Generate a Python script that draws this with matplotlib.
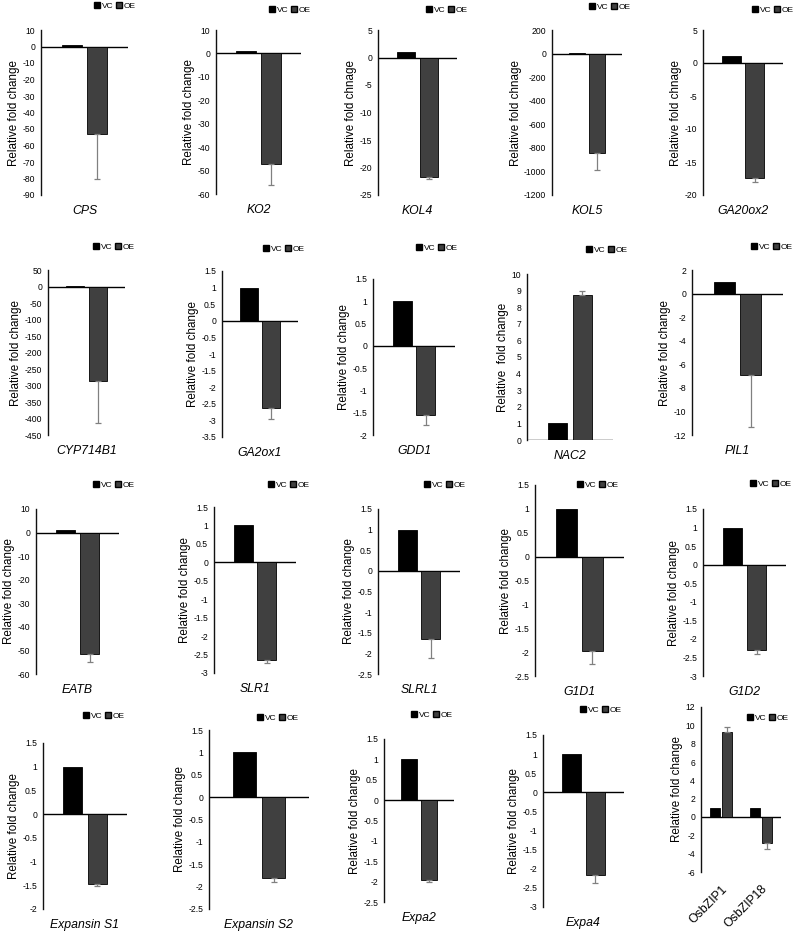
import matplotlib
matplotlib.use("Agg")
import matplotlib.pyplot as plt
import numpy as np
from matplotlib.ticker import FuncFormatter
from matplotlib.patches import Patch

plt.rcParams['font.family'] = ['Liberation Sans', 'DejaVu Sans']
plt.rcParams['axes.unicode_minus'] = False

# ---------------- data ----------------
genes = ["CPS", "KO2", "KOL4", "KOL5", "GA20ox2",
         "CYP714B1", "GA2ox1", "GDD1", "NAC2", "PIL1",
         "EATB", "SLR1", "SLRL1", "G1D1", "G1D2",
         "Expansin S1", "Expansin S2", "Expa2", "Expa4"]
vc_values = [1, 1, 1, 1, 1,
             1, 1, 1, 1, 1,
             1, 1, 1, 1, 1,
             1, 1, 1, 1]
oe_values = [-53, -47, -21.8, -845, -17.4,
             -285, -2.62, -1.55, 8.75, -6.9,
             -51.5, -2.65, -1.65, -1.98, -2.3,
             -1.47, -1.8, -1.97, -2.15]
oe_errors = [27, 9, 0.3, 145, 0.7,
             130, 0.33, 0.22, 0.25, 4.4,
             3.5, 0.07, 0.47, 0.27, 0.1,
             0.05, 0.1, 0.03, 0.22]
y_min = [-90, -60, -25, -1200, -20,
         -450, -3.5, -2, 0, -12,
         -60, -3, -2.5, -2.5, -3,
         -2, -2.5, -2.5, -3]
y_max = [10, 10, 5, 200, 5,
         50, 1.5, 1.5, 10, 2,
         10, 1.5, 1.5, 1.5, 1.5,
         1.5, 1.5, 1.5, 1.5]
y_step = [10, 10, 5, 200, 5,
          50, 0.5, 0.5, 1, 2,
          10, 0.5, 0.5, 0.5, 0.5,
          0.5, 0.5, 0.5, 0.5]
y_titles = ["Relative fold change", "Relative fold change", "Relative fold chnage",
            "Relative fold chnage", "Relative fold chnage",
            "Relative fold change", "Relative fold change", "Relative fold change",
            "Relative  fold change", "Relative fold change",
            "Relative fold change", "Relative fold change", "Relative fold change",
            "Relative fold change", "Relative fold change",
            "Relative fold change", "Relative fold change", "Relative fold change",
            "Relative fold change"]

bzip_genes = ["OsbZIP1", "OsbZIP18"]
bzip_vc = [1, 1]
bzip_oe = [9.3, -2.8]
bzip_oe_err = [0.5, 0.7]
bzip_ymin, bzip_ymax, bzip_step = -6, 12, 2

series_names = ["VC", "OE"]

# ---------------- layout (pixel boxes: left, right, top, bottom) ----------------
W, H = 797, 932
boxes = [(41, 128, 30, 195), (216, 301, 30, 194), (378, 457, 30, 195), (552, 622, 30, 195), (703, 783, 30, 195),
         (48, 125, 270, 435), (222, 298, 271, 437), (373, 455, 279, 435), (527, 613, 274, 440), (692, 783, 270, 435),
         (36, 119, 509, 674), (214, 296, 507, 673), (378, 460, 509, 674), (535, 624, 485, 676), (703, 786, 509, 676),
         (43, 127, 743, 909), (209, 309, 730, 909), (384, 454, 739, 902), (543, 624, 735, 907)]
legend_pos = [(115, 6), (290, 10), (447, 10), (610, 7), (773, 10),
              (114, 247), (284, 249), (437, 248), (607, 250), (772, 247),
              (114, 485), (289, 485), (445, 485), (598, 485), (771, 484),
              (104, 716), (278, 718), (432, 715), (601, 710)]
bzip_box = (701, 781, 707, 872)
bzip_legend = (768, 718)

VC_COLOR = "#000000"
OE_COLOR = "#404040"
ERR_COLOR = "#808080"

fig = plt.figure(figsize=(W / 100, H / 100), dpi=100)
fmt = FuncFormatter(lambda v, p: f"{v:g}")


def make_axes(box):
    l, r, t, b = box
    return fig.add_axes([l / W, 1 - b / H, (r - l) / W, (b - t) / H])


def style_axes(ax, lo, hi, step, ytitle):
    ax.set_ylim(lo, hi)
    ax.set_yticks(np.arange(lo, hi + step / 2, step))
    ax.yaxis.set_major_formatter(fmt)
    for s in ["top", "right", "bottom"]:
        ax.spines[s].set_visible(False)
    ax.spines["left"].set_color("#111111")
    ax.spines["left"].set_linewidth(1.0)
    ax.tick_params(axis="y", length=0, pad=4.3, labelsize=6.2, colors="black")
    ax.axhline(0, color="black", lw=1.0, zorder=1)
    ax.set_ylabel(ytitle, fontsize=8.4, labelpad=1.5)
    ax.patch.set_alpha(0)


def add_legend(ax, pos):
    handles = [Patch(facecolor=VC_COLOR, edgecolor=VC_COLOR, label=series_names[0]),
               Patch(facecolor=OE_COLOR, edgecolor="black", label=series_names[1])]
    ax.legend(handles=handles, loc="center", bbox_to_anchor=(pos[0] / W, 1 - pos[1] / H),
              bbox_transform=fig.transFigure, ncol=2, frameon=False, fontsize=6,
              handlelength=0.7, handleheight=0.7, handletextpad=0.2, columnspacing=0.3,
              borderpad=0, borderaxespad=0)


bw = 0.23
off = 0.145
for i, g in enumerate(genes):
    ax = make_axes(boxes[i])
    ax.bar([-off], [vc_values[i]], width=bw, color=VC_COLOR, edgecolor="black", lw=0.6, zorder=2)
    up = oe_values[i] > 0
    yerr = [[0], [oe_errors[i]]] if up else [[oe_errors[i]], [0]]
    ax.bar([off], [oe_values[i]], width=bw, color=OE_COLOR, edgecolor="black", lw=0.6, zorder=2)
    ax.errorbar([off], [oe_values[i]], yerr=yerr, fmt="none", ecolor=ERR_COLOR,
                elinewidth=0.9, capsize=2, capthick=0.9, zorder=3)
    ax.set_xlim(-0.5, 0.5)
    ax.set_xticks([])
    style_axes(ax, y_min[i], y_max[i], y_step[i], y_titles[i])
    ax.annotate(g, xy=(0.5, 0), xycoords="axes fraction", xytext=(0, -16),
                textcoords="offset pixels", ha="center", va="center",
                fontsize=8.8, style="italic")
    add_legend(ax, legend_pos[i])

# OsbZIP panel
ax = make_axes(bzip_box)
x = np.arange(len(bzip_genes))
bw2 = 0.24
off2 = 0.15
ax.bar(x - off2, bzip_vc, width=bw2, color=VC_COLOR, edgecolor="black", lw=0.6, zorder=2)
ax.bar(x + off2, bzip_oe, width=bw2, color=OE_COLOR, edgecolor="black", lw=0.6, zorder=2)
lower = [e if v < 0 else 0 for v, e in zip(bzip_oe, bzip_oe_err)]
upper = [e if v > 0 else 0 for v, e in zip(bzip_oe, bzip_oe_err)]
ax.errorbar(x + off2, bzip_oe, yerr=[lower, upper], fmt="none", ecolor=ERR_COLOR,
            elinewidth=0.9, capsize=2, capthick=0.9, zorder=3)
ax.set_xlim(-0.5, len(bzip_genes) - 0.5)
style_axes(ax, bzip_ymin, bzip_ymax, bzip_step, "Relative fold change")
ax.set_xticks(x)
ax.set_xticklabels(bzip_genes, rotation=45, ha="right", rotation_mode="anchor",
                   fontsize=8.8)
ax.tick_params(axis="x", length=0, pad=8)
add_legend(ax, bzip_legend)

fig.savefig("out.png", dpi=100)
